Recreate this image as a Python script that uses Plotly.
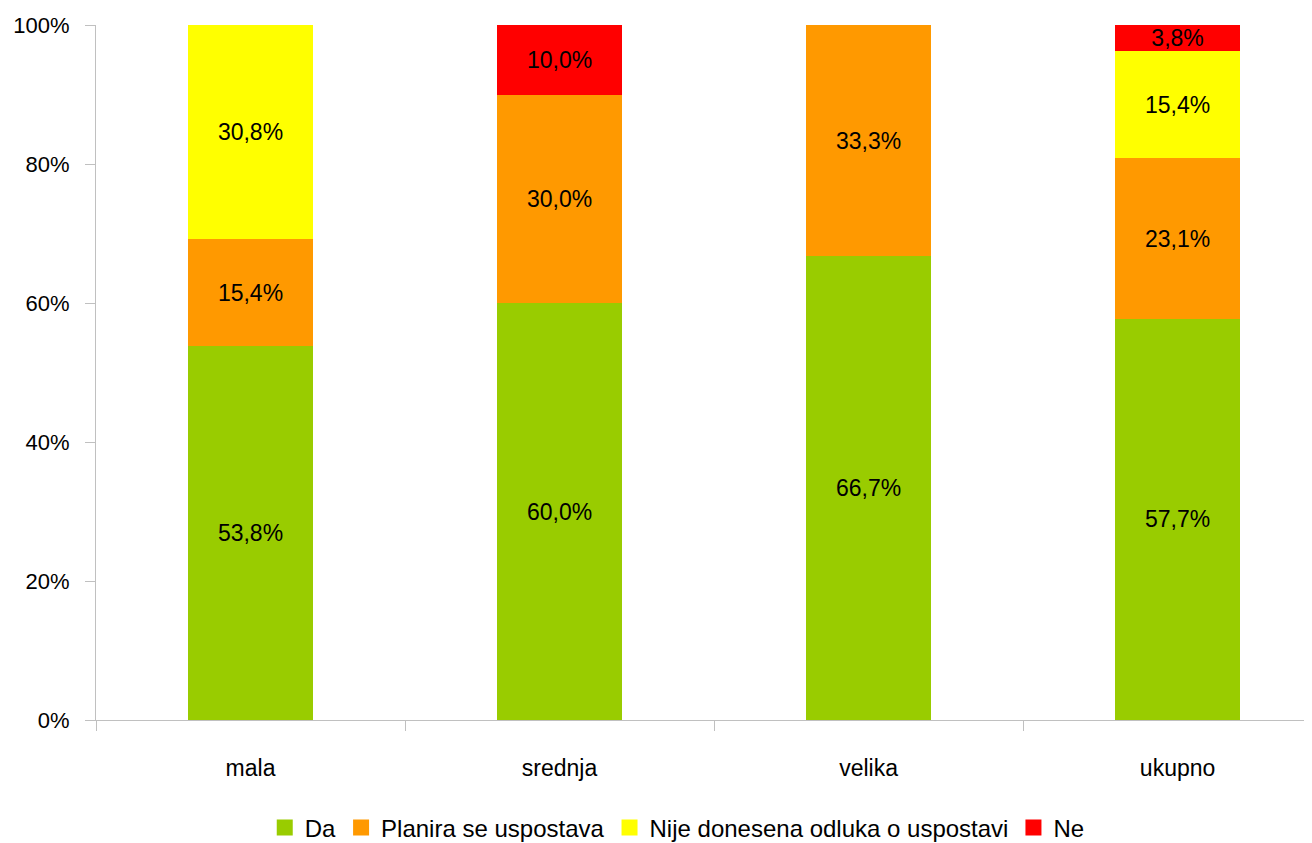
import plotly.graph_objects as go

# --- Datos ---
kategorije = ["mala", "srednja", "velika", "ukupno"]
da = [53.8, 60.0, 66.7, 57.7]
planira = [15.4, 30.0, 33.3, 23.1]
nije_doneseno = [30.8, 0.0, 0.0, 15.4]
ne = [0.0, 10.0, 0.0, 3.8]

serije = [
    ("Da", da, "#99CC00"),
    ("Planira se uspostava", planira, "#FF9900"),
    ("Nije donesena odluka o uspostavi", nije_doneseno, "#FFFF00"),
    ("Ne", ne, "#FF0000"),
]

FONT = "Liberation Sans, Arial, sans-serif"


def oznaka(v):
    return f"{v:.1f}%".replace(".", ",") if v > 0 else ""


fig = go.Figure()
for ime, vrijednosti, boja in serije:
    fig.add_trace(go.Bar(
        x=kategorije, y=vrijednosti, name=ime, showlegend=False,
        marker=dict(color=boja, line=dict(width=0)),
        text=[oznaka(v) for v in vrijednosti],
        textposition="inside", insidetextanchor="middle",
        textfont=dict(family=FONT, size=23, color="black"),
        constraintext="none",
    ))

# legenda s vecim kvadraticima
for ime, vrijednosti, boja in serije:
    fig.add_trace(go.Scatter(
        x=[None], y=[None], name=ime, mode="markers",
        marker=dict(symbol="square", size=18, color=boja),
    ))

# stranica ima marginu 8px -> figura 1304x835
fig.update_layout(
    barmode="stack",
    bargap=0.595,
    width=1304, height=835,
    margin=dict(l=88, r=0, t=17, b=123),
    paper_bgcolor="white", plot_bgcolor="white",
    font=dict(family=FONT, size=22, color="black"),
    uniformtext=dict(minsize=23, mode="show"),
    showlegend=True,
    legend=dict(orientation="h", x=0.478, xanchor="center",
                yref="container", y=0.018, yanchor="middle",
                font=dict(size=24), traceorder="normal", itemwidth=30, tracegroupgap=0),
    xaxis=dict(range=[-0.5, 3.435], showline=True, linecolor="#C0C0C0", linewidth=1,
               ticks="outside", tickson="boundaries", ticklen=10, tickcolor="#C0C0C0",
               showgrid=False, automargin=False, ticklabelstandoff=27,
               tickfont=dict(size=23)),
    yaxis=dict(range=[0, 100], dtick=20, ticksuffix="%", showline=True, linecolor="#C0C0C0",
               linewidth=1, ticks="outside", ticklen=10, tickcolor="#C0C0C0",
               showgrid=False, zeroline=False, automargin=False, ticklabelstandoff=11,
               tickfont=dict(size=22)),
)

fig.write_html("out.html")
